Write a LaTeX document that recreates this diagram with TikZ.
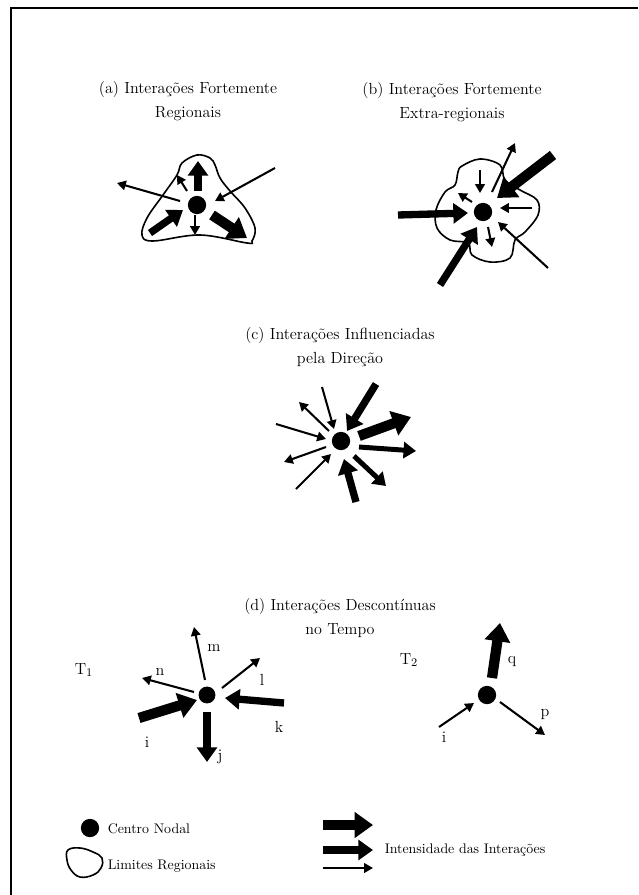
\documentclass[tikz,border=0pt]{standalone}
\usepackage{tikz}
\usetikzlibrary{arrows.meta,calc}
\tikzset{
  hub/.style   ={circle, fill=black, inner sep=0pt, minimum size=12.5pt},
  region/.style={draw=black, line width=1.1pt},
  a1/.style    ={line width=1.4pt, -{Triangle[length=6pt,width=6.5pt]}},
  a2/.style    ={line width=3.4pt, -{Triangle[length=8.5pt,width=11pt]}},
  a3/.style    ={line width=5pt, -{Triangle[length=10pt,width=13.5pt]}},
  a4/.style    ={line width=7pt, -{Triangle[length=12.5pt,width=17pt]}},
  ttl/.style   ={font=\fontsize{11}{16}\selectfont, align=center},
  lbl/.style   ={font=\fontsize{11}{13}\selectfont, inner sep=1pt},
  leg/.style   ={font=\fontsize{9.5}{11}\selectfont, anchor=west, inner sep=1pt},
}

\begin{document}
\begin{tikzpicture}[x=0.024cm,y=-0.024cm]
  \useasboundingbox (0,0) rectangle (638,895);
  \draw[line width=1.2pt] (11,895) -- (11,8) -- (638,8);

  % (a) regional
  \node[ttl] (ttlA) at (188,101) {(a) Interações Fortemente\\Regionais};
  \node[hub] (hubA) at (197,205) {};
  \begin{scope}[shift={(hubA)}]
    \draw[region] plot[smooth cycle, tension=0.6] coordinates {(-15,-42) (0,-50) (13,-47) (18,-40) (23,-27)
      (33,-14) (48,3) (58,23) (55,36) (50,38) (3,30) (-44,36) (-55,30) (-50,13) (-34,-10) (-20,-30)};
    \foreach \s/\ax/\ay/\bx/\by in {a3/1/-14/1/-44, a1/-10/-14/-20/-30, a1/-17/-4/-80/-22, a1/78/-37/18/-4,
                                    a1/-2/10/-2/30, a3/-47/28/-14/5, a4/15/10/50/33}
      \draw[\s] (\ax,\ay) -- (\bx,\by);
  \end{scope}

  % (b) extra-regional
  \node[ttl] (ttlB) at (452,102) {(b) Interações Fortemente\\Extra-regionais};
  \node[hub] (hubB) at (483,212) {};
  \begin{scope}[shift={(hubB)}]
    \draw[region] plot[smooth cycle, tension=0.6] coordinates {(-21,-46) (-3,-53) (17,-47) (22,-32) (37,-22)
      (54,-12) (55,3) (42,20) (32,28) (27,46) (7,50) (-11,43) (-15,31) (-33,28) (-46,16) (-47,-2)
      (-38,-20) (-28,-27) (-25,-40)};
    \foreach \s/\ax/\ay/\bx/\by in {a1/9/-20/32/-69, a4/70/-57/14/-14, a1/-3/-42/-3/-19, a1/-11/-10/-25/-19,
                                    a3/-85/3/-15/1, a1/49/-4/17/-4, a1/5/15/9/35, a3/-43/73/-6/15, a1/65/56/15/10}
      \draw[\s] (\ax,\ay) -- (\bx,\by);
  \end{scope}

  % (c) direction
  \node[ttl] (ttlC) at (340,347) {(c) Interações Influenciadas\\pela Direção};
  \node[hub] (hubC) at (341,441) {};
  \begin{scope}[shift={(hubC)}]
    \foreach \s/\ax/\ay/\bx/\by in {a3/35/-57/6/-10, a1/-19/-54/-7/-12, a1/-12/-10/-42/-39, a1/-65/-17/-15/-2,
                                    a1/-15/6/-57/21, a1/-45/48/-10/13, a3/15/61/3/18, a2/13/15/45/45,
                                    a2/18/6/75/10, a4/18/-5/70/-24}
      \draw[\s] (\ax,\ay) -- (\bx,\by);
  \end{scope}

  % (d) time
  \node[ttl] (ttlD) at (340,618) {(d) Interações Descontínuas\\no Tempo};
  \node[hub, minimum size=11.5pt] (hubT1) at (207,695) {};
  \node[lbl] (tOne) at ($(hubT1)+(-123,-25)$) {T$_1$};
  \begin{scope}[shift={(hubT1)}]
    \foreach \s/\ax/\ay/\bx/\by/\lx/\ly/\t in {a1/-2/-15/-13/-68/7/-47/m, a1/-13/-3/-65/-17/-47/-23/n,
                                             a1/15/-7/53/-37/55/-15/l, a3/77/8/18/3/72/32/k,
                                             a4/-68/23/-10/5/-60/47/i, a3/0/17/0/67/13/62/j}{
      \draw[\s] (\ax,\ay) -- (\bx,\by);
      \node[lbl] (t1\t) at (\lx,\ly) {\t};
    }
  \end{scope}

  \node[hub] (hubT2) at (487,695) {};
  \node[lbl] (tTwo) at ($(hubT2)+(-78,-35)$) {T$_2$};
  \begin{scope}[shift={(hubT2)}]
    \foreach \s/\ax/\ay/\bx/\by/\lx/\ly/\t in {a4/5/-17/13/-72/25/-33/q, a1/-48/32/-13/8/-43/42/i,
                                             a1/13/7/58/40/58/20/p}{
      \draw[\s] (\ax,\ay) -- (\bx,\by);
      \node[lbl] (t2\t) at (\lx,\ly) {\t};
    }
  \end{scope}

  % legend
  \node[hub] (keyHub) at (90,828) {};
  \node[leg] (keyHubTxt) at (106,829) {Centro Nodal};
  \coordinate (keyReg) at (85,862);
  \begin{scope}[shift={(keyReg)}]
    \draw[region] plot[smooth cycle, tension=0.7] coordinates {(-17,-12) (-5,-14) (8,-10) (17,-4) (16,6)
      (8,13) (-5,15) (-14,8) (-18,-2)};
  \end{scope}
  \node[leg] (keyRegTxt) at (106,866) {Limites Regionais};
  \foreach \k/\s/\yy in {1/a4/825, 2/a3/850, 3/a1/868}{
    \coordinate (kt\k) at (323,\yy);
    \coordinate (kh\k) at (373,\yy);
    \draw[\s] (kt\k) -- (kh\k);
  }
  \node[leg] (keyArTxt) at (383,850) {Intensidade das Interações};
\end{tikzpicture}
\end{document}
